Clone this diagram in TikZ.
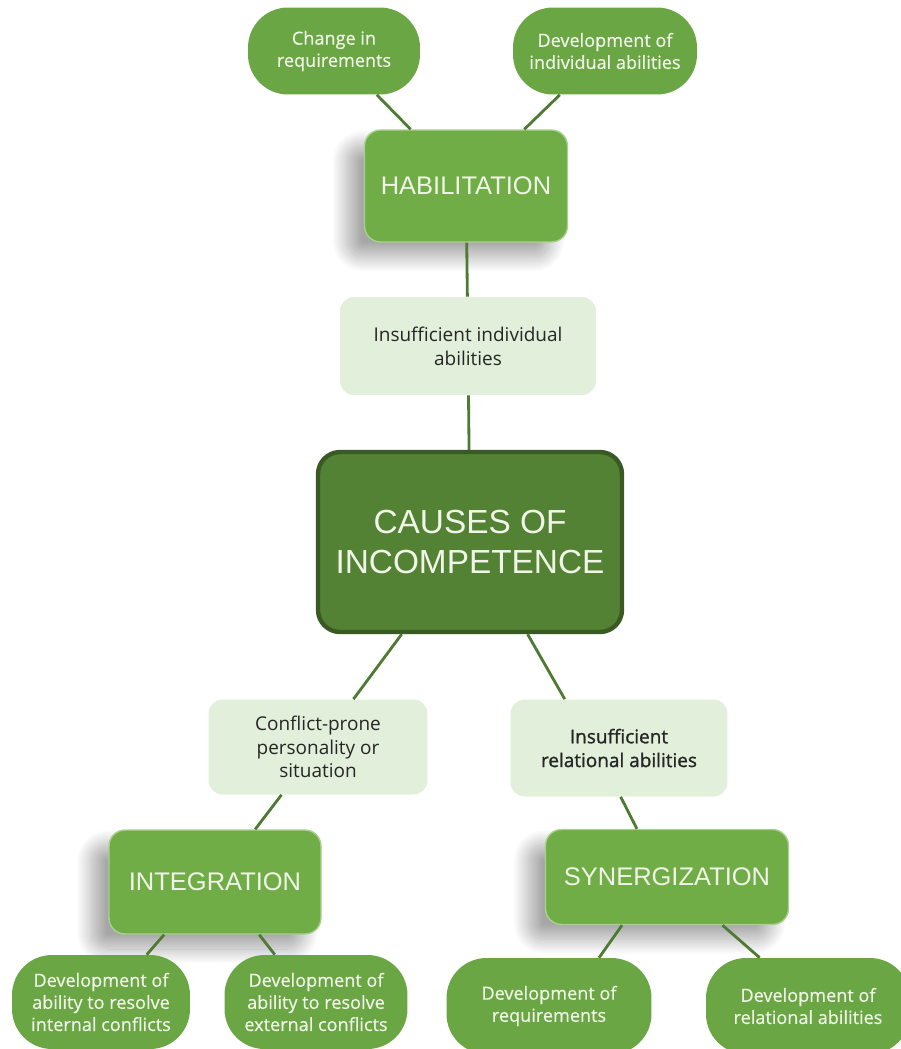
\documentclass[tikz,border=0pt]{standalone}
\usepackage{fontspec}
\setmainfont{Open Sans}
\newfontfamily\capfont{Liberation Sans}
\newfontfamily\medfont{Open Sans}[FakeBold=0.5]
\newfontfamily\semifont{Open Sans}[FakeBold=1.2]
\usetikzlibrary{shadows.blur}
\definecolor{pillgreen}{HTML}{6AA643}
\definecolor{methgreen}{HTML}{70AD47}
\definecolor{methedge}{HTML}{A9D18E}
\definecolor{pilltext}{HTML}{F0F5E8}
\definecolor{causefill}{HTML}{E2EFDA}
\definecolor{corefill}{HTML}{548235}
\definecolor{coreedge}{HTML}{3A5A24}
\definecolor{linkgreen}{HTML}{4E7A34}

\begin{document}
\begin{tikzpicture}[
    x=0.02cm, y=-0.02cm,
    pill/.style={rounded corners=0.8cm, fill=pillgreen, text=pilltext, align=center,
        font=\medfont\fontsize{10.3}{12.6}\selectfont, inner sep=2pt},
    method/.style={rounded corners=0.32cm, fill=methgreen, draw=methedge, line width=0.8pt,
        text=pilltext, font=\capfont\fontsize{14.5}{17}\selectfont,
        blur shadow={shadow xshift=-0.35cm, shadow yshift=-0.3cm,
            shadow blur radius=0.3cm, shadow blur steps=24, shadow opacity=35}},
    cause/.style={rounded corners=0.28cm, fill=causefill, text=black!85, align=center,
        font=\fontsize{10.8}{13.5}\selectfont},
    core/.style={rounded corners=0.44cm, fill=corefill, draw=coreedge, line width=2.5pt,
        text=pilltext, align=center, font=\capfont\fontsize{19}{23}\selectfont},
    link/.style={draw=linkgreen, line width=1.6pt},
]
\useasboundingbox (0,0) rectangle (901,1049);

% top
\node[pill, minimum width=3.44cm, minimum height=1.74cm] (chg) at (334,51) {Change in\\requirements};
\node[pill, minimum width=3.68cm, minimum height=1.74cm] (devind) at (605,51) {Development of\\individual abilities};
\node[method, minimum width=4.06cm, minimum height=2.24cm] (hab) at (466,186) {HABILITATION};
\node[cause, minimum width=5.12cm, minimum height=1.96cm] (insind) at (468,346) {Insufficient individual\\abilities};

% centre
\node[core, minimum width=6.08cm, minimum height=3.6cm] (core) at (470,542) {CAUSES OF\\INCOMPETENCE};

% causes
\node[cause, minimum width=4.38cm, minimum height=1.9cm] (confl) at (318,747) {Conflict-prone\\personality or\\situation};
\node[cause, minimum width=4.34cm, minimum height=1.94cm, font=\semifont\fontsize{10.8}{13.5}\selectfont] (insrel) at (619,748) {Insufficient\\relational abilities};

% methods
\node[method, minimum width=4.24cm, minimum height=2.08cm] (integ) at (215,882) {INTEGRATION};
\node[method, minimum width=4.86cm, minimum height=1.9cm] (syn) at (667,877) {SYNERGIZATION};

% bottom
\node[pill, minimum width=3.56cm, minimum height=1.88cm] (intconf) at (101,1002) {Development of\\ability to resolve\\internal conflicts};
\node[pill, minimum width=3.66cm, minimum height=1.88cm] (extconf) at (316,1002) {Development of\\ability to resolve\\external conflicts};
\node[pill, minimum width=4.1cm, minimum height=1.92cm] (devreq) at (549,1006) {Development of\\requirements};
\node[pill, minimum width=4.08cm, minimum height=1.92cm] (devrel) at (808,1006) {Development of\\relational abilities};

% links
\draw[link] (chg) -- (hab);
\draw[link] (devind) -- (hab);
\draw[link] (hab) -- (insind);
\draw[link] (insind) -- (core);
\draw[link] (core) -- (confl);
\draw[link] (core.-58.6) -- (insrel.138);
\draw[link] (confl) -- (integ);
\draw[link] (insrel.-88) -- (syn.122);
\draw[link] (integ.-134) -- (intconf.46);
\draw[link] (integ.-50) -- (extconf.131);
\draw[link] (syn.-133) -- (devreq.44);
\draw[link] (syn.-41) -- (devrel.135);
\end{tikzpicture}
\end{document}
